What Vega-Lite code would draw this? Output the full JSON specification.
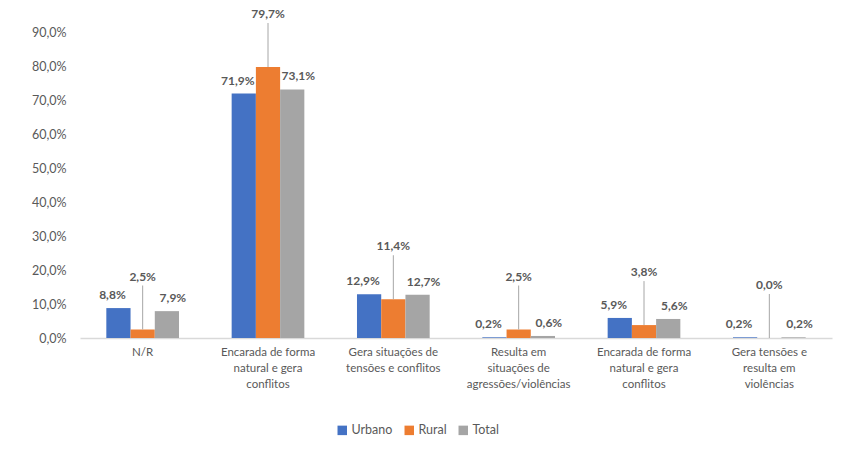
{
  "$schema": "https://vega.github.io/schema/vega-lite/v6.json",
  "autosize": "none",
  "width": 752,
  "height": 306,
  "padding": {"left": 80, "top": 32, "right": 15, "bottom": 116},
  "background": "white",
  "config": {
    "font": "Lato",
    "view": {"stroke": null},
    "locale": {"number": {"decimal": ",", "thousands": ".", "grouping": [3], "currency": ["", "€"]}}
  },
  "data": {"values": [
    {"cat": "1", "serie": "Urbano", "valor": 0.088},
    {"cat": "1", "serie": "Rural", "valor": 0.025},
    {"cat": "1", "serie": "Total", "valor": 0.079},
    {"cat": "2", "serie": "Urbano", "valor": 0.719},
    {"cat": "2", "serie": "Rural", "valor": 0.797},
    {"cat": "2", "serie": "Total", "valor": 0.731},
    {"cat": "3", "serie": "Urbano", "valor": 0.129},
    {"cat": "3", "serie": "Rural", "valor": 0.114},
    {"cat": "3", "serie": "Total", "valor": 0.127},
    {"cat": "4", "serie": "Urbano", "valor": 0.002},
    {"cat": "4", "serie": "Rural", "valor": 0.025},
    {"cat": "4", "serie": "Total", "valor": 0.006},
    {"cat": "5", "serie": "Urbano", "valor": 0.059},
    {"cat": "5", "serie": "Rural", "valor": 0.038},
    {"cat": "5", "serie": "Total", "valor": 0.056},
    {"cat": "6", "serie": "Urbano", "valor": 0.002},
    {"cat": "6", "serie": "Rural", "valor": 0.0},
    {"cat": "6", "serie": "Total", "valor": 0.002}
  ]},
  "encoding": {
    "x": {
      "field": "cat", "type": "nominal", "sort": ["1", "2", "3", "4", "5", "6"],
      "scale": {"paddingInner": 0.42, "paddingOuter": 0.21},
      "axis": {
        "title": null, "labelAngle": 0, "ticks": false,
        "domainColor": "#d9d9d9", "domainWidth": 1.5,
        "labelColor": "#595959", "labelFontSize": 11.5, "labelLineHeight": 16,
        "labelPadding": 8, "labelBaseline": "top",
        "labelExpr": "[['N/R'], ['Encarada de forma', 'natural e gera', 'conflitos'], ['Gera situações de', 'tensões e conflitos'], ['Resulta em', 'situações de', 'agressões/violências'], ['Encarada de forma', 'natural e gera', 'conflitos'], ['Gera tensões e', 'resulta em', 'violências']][toNumber(datum.value) - 1]"
      }
    },
    "xOffset": {"field": "serie", "type": "nominal", "sort": ["Urbano", "Rural", "Total"], "scale": {"paddingInner": 0, "paddingOuter": 0}},
    "y": {
      "field": "valor", "type": "quantitative",
      "scale": {"domain": [0, 0.9], "nice": false},
      "axis": {
        "title": null, "format": ".1%", "values": [0, 0.1, 0.2, 0.3, 0.4, 0.5, 0.6, 0.7, 0.8, 0.9],
        "domain": false, "ticks": false, "grid": false,
        "labelColor": "#595959", "labelFontSize": 12.5, "labelPadding": 14
      }
    }
  },
  "layer": [
    {
      "mark": {"type": "bar"},
      "encoding": {
        "color": {
          "field": "serie", "type": "nominal", "sort": ["Urbano", "Rural", "Total"],
          "scale": {"domain": ["Urbano", "Rural", "Total"], "range": ["#4472C4", "#ED7D31", "#A5A5A5"]},
          "legend": {
            "title": null, "orient": "none", "direction": "horizontal",
            "legendX": 256, "legendY": 392,
            "symbolType": "square", "symbolSize": 90, "symbolStrokeWidth": 0,
            "labelColor": "#595959", "labelFontSize": 12.5, "columnPadding": 10, "labelOffset": 3
          }
        }
      }
    },
    {
      "transform": [{"filter": "datum.serie == 'Rural'"}],
      "mark": {"type": "rule", "color": "#a6a6a6", "strokeWidth": 1, "y2Offset": -44},
      "encoding": {"y2": {"field": "valor"}}
    },
    {
      "transform": [{"filter": "datum.serie == 'Urbano'"}],
      "mark": {"type": "text", "baseline": "bottom", "dy": -6, "dx": -6, "fontSize": 12, "fontWeight": "bold", "color": "#595959"},
      "encoding": {"text": {"field": "valor", "format": ".1%"}}
    },
    {
      "transform": [{"filter": "datum.serie == 'Rural'"}],
      "mark": {"type": "text", "baseline": "bottom", "dy": -46, "fontSize": 12, "fontWeight": "bold", "color": "#595959"},
      "encoding": {"text": {"field": "valor", "format": ".1%"}}
    },
    {
      "transform": [{"filter": "datum.serie == 'Total'"}],
      "mark": {"type": "text", "baseline": "bottom", "dy": -6, "dx": 6, "fontSize": 12, "fontWeight": "bold", "color": "#595959"},
      "encoding": {"text": {"field": "valor", "format": ".1%"}}
    }
  ]
}
